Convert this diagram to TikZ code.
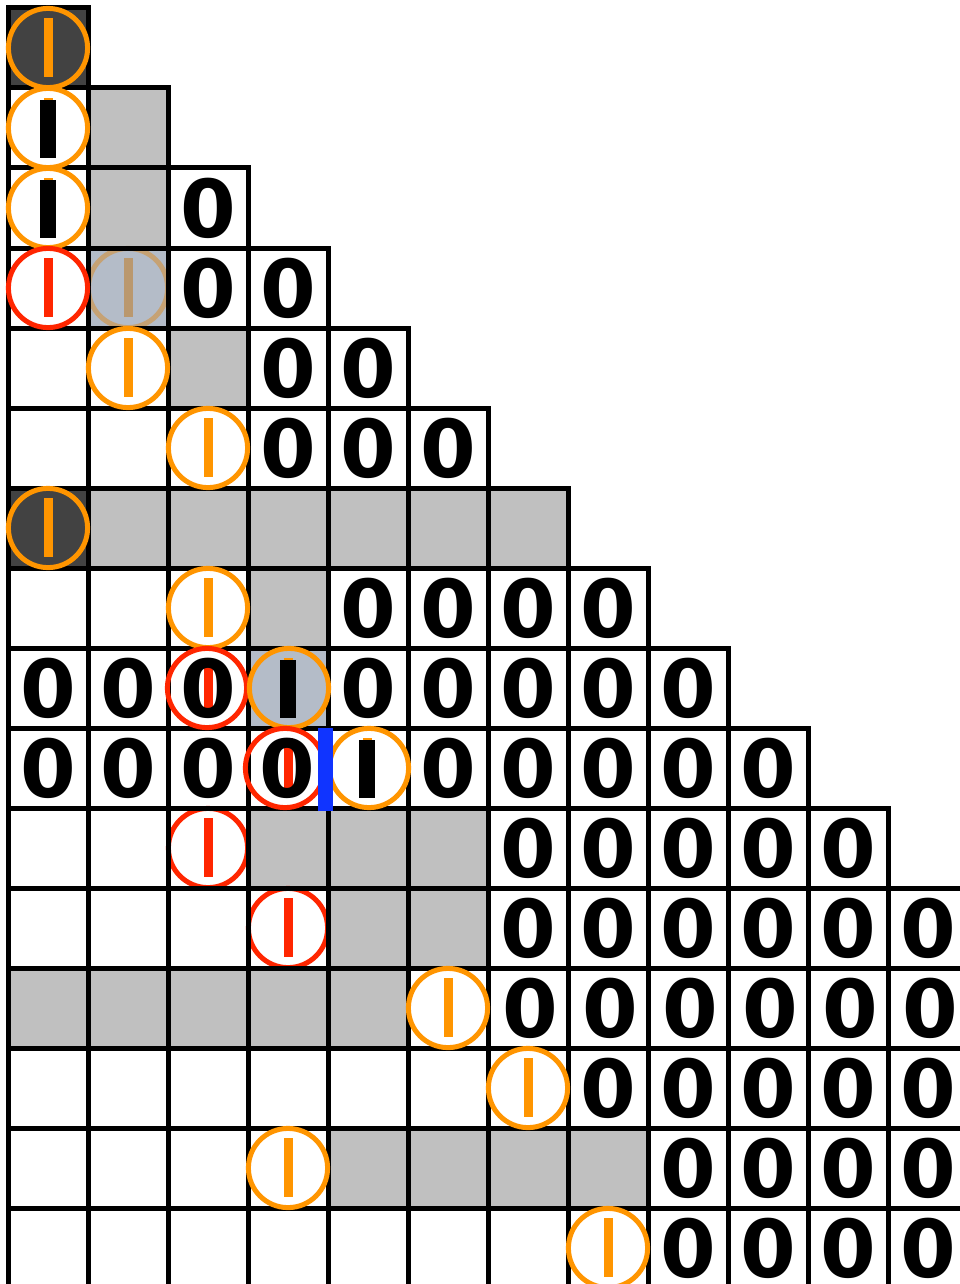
\documentclass[tikz,border=0pt]{standalone}
\usepackage{fontspec}
\setmainfont{DejaVu Sans}
\definecolor{ora}{RGB}{255,149,0}
\definecolor{rd}{RGB}{255,38,0}
\definecolor{gr}{RGB}{192,192,192}
\definecolor{dk}{RGB}{66,66,66}
\definecolor{gb}{RGB}{180,188,200}
\definecolor{tanring}{RGB}{198,162,116}
\definecolor{tanbar}{RGB}{186,152,110}
\definecolor{bl}{RGB}{16,52,255}
\newcommand\fillcells[4]{\fill[#4] ({8+80*#2},{8+80*#1}) rectangle ({88+80*#3},{88+80*#1});}
\newcommand\ringat[3]{\draw[ringline,#3] (#1,#2) circle[radius=39.6];}
\newcommand\obar[3]{\fill[#3] ({#1-4.5},{#2-30}) rectangle ({#1+4.5},{#2+29});}
\newcommand\kbar[2]{\fill[black] ({#1-8},{#2-28}) rectangle ({#1+8},{#2+30});}
\tikzset{
  gridline/.style={draw=black,line width=5pt},
  ringline/.style={line width=5pt},
  zero/.style={inner sep=0pt,font=\fontsize{80}{80}\selectfont\bfseries}
}
\begin{document}
\begin{tikzpicture}[x=1pt,y=-1pt]
\useasboundingbox (0,0) rectangle (960,1284);
\clip (0,0) rectangle (960,1284);
\fill[white] (0,0) rectangle (960,1284);
% cell fills
\fillcells{0}{0}{0}{dk}
\fillcells{6}{0}{0}{dk}
\fillcells{1}{1}{1}{gr}
\fillcells{2}{1}{1}{gr}
\fillcells{4}{2}{2}{gr}
\fillcells{6}{1}{6}{gr}
\fillcells{7}{3}{3}{gr}
\fillcells{10}{3}{5}{gr}
\fillcells{11}{4}{5}{gr}
\fillcells{12}{0}{4}{gr}
\fillcells{14}{4}{7}{gr}
\fillcells{3}{1}{1}{gb}
\fillcells{8}{3}{3}{gb}
% rings lying under the grid
\ringat{128}{288}{tanring}
\obar{128}{288}{tanbar}
\ringat{208}{848}{rd}
\obar{208}{848}{rd}
\ringat{288}{928}{rd}
\obar{288}{928}{rd}
% red bars beneath zeros
\obar{208}{688}{rd}
\obar{288}{768}{rd}
% zeros
\foreach \r/\a/\b in {2/2/2,3/2/3,4/3/4,5/3/5,7/4/7,8/0/2,8/4/8,9/0/2,9/5/9,10/6/10,11/6/11,13/7/11,14/8/11,15/8/11}{
  \foreach \c in {\a,...,\b}{
    \node[zero] (z-\r-\c) at ({48+80*\c},{48+80*\r}) {0};
  }
}
\node[zero] (z-9-3) at (287,768) {0};
\foreach \c in {6,...,11}{
  \node[zero] (z-12-\c) at ({50+80*\c},1008) {0};
}
% grid
\foreach \r in {0,...,15}{
  \pgfmathtruncatemacro\m{min(\r,11)}
  \foreach \c in {0,...,\m}{
    \draw[gridline] ({8+80*\c},{8+80*\r}) rectangle ({88+80*\c},{88+80*\r});
  }
}
% rings on top
\ringat{48}{48}{ora}   \obar{48}{48}{ora}
\ringat{48}{128}{ora}  \obar{48}{128}{ora}  \kbar{48}{128}
\ringat{48}{208}{ora}  \obar{48}{208}{ora}  \kbar{48}{208}
\ringat{48}{288}{rd}   \obar{48}{288}{rd}
\ringat{128}{368}{ora} \obar{128}{368}{ora}
\ringat{208}{448}{ora} \obar{208}{448}{ora}
\ringat{48}{528}{ora}  \obar{48}{528}{ora}
\ringat{208}{608}{ora} \obar{208}{608}{ora}
\ringat{207}{688}{rd}
\ringat{289}{688}{ora} \obar{288}{688}{ora} \kbar{288}{688}
\ringat{285}{768}{rd}
\ringat{369}{768}{ora} \obar{367}{768}{ora} \kbar{367}{768}
\ringat{448}{1008}{ora} \obar{448}{1008}{ora}
\ringat{528}{1088}{ora} \obar{528}{1088}{ora}
\ringat{288}{1168}{ora} \obar{288}{1168}{ora}
\ringat{608}{1248}{ora} \obar{608}{1248}{ora}
% blue bar
\fill[bl] (318,728) rectangle (333,811);
\end{tikzpicture}
\end{document}
